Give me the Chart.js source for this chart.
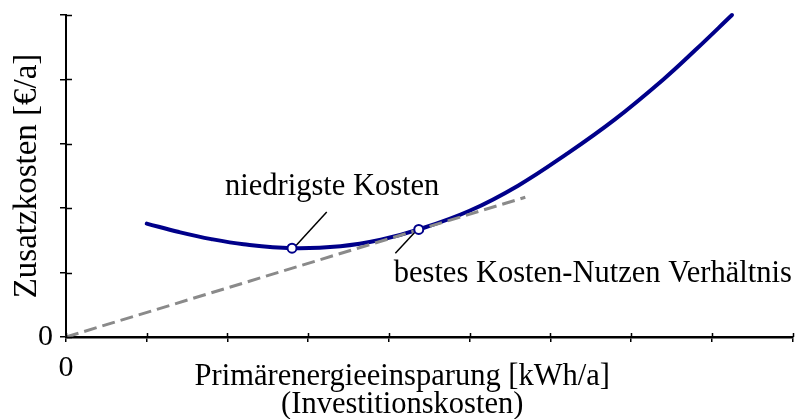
<!DOCTYPE html>
<html>
<head>
<meta charset="utf-8">
<script src="https://cdn.jsdelivr.net/npm/chart.js@4/dist/chart.umd.min.js"></script>
<style>
html,body{margin:0;padding:0;background:#fff;}
canvas{display:block;}
</style>
</head>
<body>
<canvas id="c" width="799" height="419"></canvas>
<script>
// Data (x in tick units, y in tick units)
const curveX = [1.00, 1.40, 1.80, 2.20, 2.80, 3.40, 3.90, 4.37, 5.00, 5.60, 6.20, 6.80, 7.40, 7.80, 8.25];
const curveY = [1.76, 1.63, 1.52, 1.44, 1.38, 1.41, 1.51, 1.67, 1.96, 2.35, 2.84, 3.38, 4.00, 4.46, 5.00];
const tangentX = [0, 5.69];
const tangentY = [0, 2.17];
const markerX = [2.80, 4.37];
const markerY = [1.38, 1.67];
const leaderMinX = [2.85, 3.23];
const leaderMinY = [1.42, 1.94];
const leaderBestX = [4.33, 4.08];
const leaderBestY = [1.64, 1.30];
const xTickValues = [0,1,2,3,4,5,6,7,8,9];
const yTickValues = [0,1,2,3,4,5];
const labelMin = {text: 'niedrigste Kosten', x: 1.97, y: 2.20};
const labelBest = {text: 'bestes Kosten-Nutzen Verhältnis', x: 4.06, y: 0.86};
const xTitle = ['Primärenergieeinsparung [kWh/a]', '(Investitionskosten)'];
const yTitle = 'Zusatzkosten [€/a]';

const pts = (xs, ys) => xs.map((x, i) => ({x: x, y: ys[i]}));
const FONT = 'Liberation Serif';
const NAVY = '#00008a';

const innerTicks = {
  id: 'innerTicks',
  afterDraw(chart) {
    const ctx = chart.ctx;
    const xs = chart.scales.x, ys = chart.scales.y;
    const ca = chart.chartArea;
    ctx.save();
    ctx.strokeStyle = '#000';
    ctx.lineWidth = 1.5;
    ctx.beginPath();
    xTickValues.forEach(v => {
      const px = Math.round(xs.getPixelForValue(v)) + 0.5;
      ctx.moveTo(px, ca.bottom);
      ctx.lineTo(px, ca.bottom - 4);
    });
    yTickValues.forEach(v => {
      const py = Math.round(ys.getPixelForValue(v)) + 0.5;
      ctx.moveTo(ca.left, py);
      ctx.lineTo(ca.left + 6, py);
    });
    ctx.stroke();
    // annotation labels
    ctx.fillStyle = '#000';
    ctx.font = '30.5px "' + FONT + '"';
    ctx.textBaseline = 'alphabetic';
    ctx.textAlign = 'left';
    [labelMin, labelBest].forEach(l => {
      ctx.fillText(l.text, xs.getPixelForValue(l.x), ys.getPixelForValue(l.y));
    });
    // x axis title
    ctx.textAlign = 'center';
    const cx = (ca.left + ca.right) / 2 - 27;
    ctx.fillText(xTitle[0], cx, ca.bottom + 48);
    ctx.fillText(xTitle[1], cx, ca.bottom + 76);
    ctx.restore();
  }
};

new Chart(document.getElementById('c'), {
  type: 'line',
  data: {
    datasets: [
      {
        label: 'markers',
        data: pts(markerX, markerY),
        showLine: false,
        pointRadius: 4.5,
        pointBorderWidth: 2,
        pointBackgroundColor: '#fff',
        pointBorderColor: NAVY,
        clip: false
      },
      {
        label: 'tangent',
        data: pts(tangentX, tangentY),
        borderColor: '#8a8a8a',
        borderWidth: 3,
        borderDash: [13, 6],
        pointRadius: 0,
        clip: false
      },
      {
        label: 'leaderMin',
        data: pts(leaderMinX, leaderMinY),
        borderColor: '#000',
        borderWidth: 1.5,
        pointRadius: 0
      },
      {
        label: 'leaderBest',
        data: pts(leaderBestX, leaderBestY),
        borderColor: '#000',
        borderWidth: 1.5,
        pointRadius: 0
      },
      {
        label: 'curve',
        data: pts(curveX, curveY),
        borderColor: NAVY,
        borderWidth: 4,
        pointRadius: 0,
        tension: 0.4,
        borderCapStyle: 'round',
        clip: false
      }
    ]
  },
  options: {
    responsive: false,
    animation: false,
    devicePixelRatio: 1,
    layout: {padding: {top: 15, right: 3, left: 0, bottom: 0}},
    plugins: {legend: {display: false}, tooltip: {enabled: false}},
    scales: {
      x: {
        type: 'linear',
        min: 0, max: 9,
        afterFit(s) { s.height = 82; },
        afterBuildTicks(s) { s.ticks = xTickValues.map(v => ({value: v})); },
        border: {display: true, color: '#000', width: 2.5},
        grid: {drawOnChartArea: false, drawTicks: true, tickLength: 5, color: '#000', lineWidth: 1.5},
        ticks: {
          autoSkip: false, maxRotation: 0, padding: 0, color: '#000',
          font: {family: FONT, size: 30, lineHeight: 1.75},
          callback: v => (v === 0 ? '0' : '')
        }
      },
      y: {
        type: 'linear',
        min: 0, max: 5,
        afterFit(s) { s.width = 66; },
        afterBuildTicks(s) { s.ticks = yTickValues.map(v => ({value: v})); },
        border: {display: true, color: '#000', width: 2},
        grid: {drawOnChartArea: false, drawTicks: true, tickLength: 6, color: '#000', lineWidth: 1.5},
        ticks: {
          autoSkip: false, padding: 7, color: '#000',
          font: {family: FONT, size: 30, lineHeight: 0.5},
          callback: v => (v === 0 ? '0' : '')
        },
        title: {
          display: true, text: yTitle, color: '#000',
          font: {family: FONT, size: 33, lineHeight: 1.0},
          padding: {top: 11, bottom: 0}
        }
      }
    }
  },
  plugins: [innerTicks]
});
</script>
</body>
</html>
